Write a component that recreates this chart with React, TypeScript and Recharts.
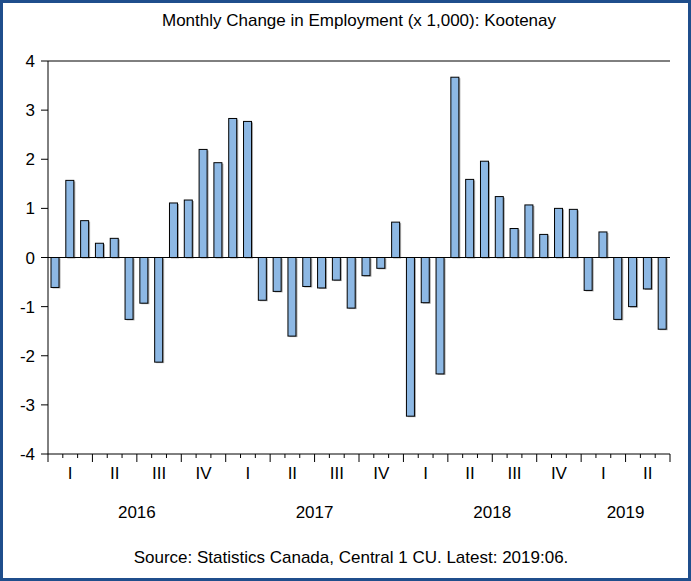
import React from "react";
import { BarChart, Bar, XAxis, YAxis, ReferenceLine } from "recharts";

// monthly periods, Jan 2016 - Jun 2019
const periods = [
  "2016:01", "2016:02", "2016:03", "2016:04", "2016:05", "2016:06",
  "2016:07", "2016:08", "2016:09", "2016:10", "2016:11", "2016:12",
  "2017:01", "2017:02", "2017:03", "2017:04", "2017:05", "2017:06",
  "2017:07", "2017:08", "2017:09", "2017:10", "2017:11", "2017:12",
  "2018:01", "2018:02", "2018:03", "2018:04", "2018:05", "2018:06",
  "2018:07", "2018:08", "2018:09", "2018:10", "2018:11", "2018:12",
  "2019:01", "2019:02", "2019:03", "2019:04", "2019:05", "2019:06",
];

// change in employment, thousands
const change = [
  -0.61, 1.57, 0.75, 0.29, 0.39, -1.26, -0.93, -2.13, 1.11, 1.17, 2.2, 1.93,
  2.83, 2.77, -0.87, -0.69, -1.6, -0.59, -0.62, -0.46, -1.03, -0.37, -0.22, 0.72,
  -3.23, -0.92, -2.37, 3.67, 1.59, 1.96, 1.24, 0.59, 1.07, 0.47, 1.0, 0.98,
  -0.67, 0.52, -1.26, -1.0, -0.64, -1.46,
];

const quarterLabels = ["I", "II", "III", "IV"];
const yTicks = [-4, -3, -2, -1, 0, 1, 2, 3, 4];

const data = periods.map((p, i) => ({ period: p, change: change[i] }));

const W = 685;
const H = 575;
const M = { top: 58, right: 18, bottom: 14, left: 5 };
const Y_W = 40;
const PLOT_W = W - M.left - M.right - Y_W;
const band = PLOT_W / periods.length;
const FONT = "'Liberation Sans', Arial, sans-serif";
const FS = 17;

const monthsInYear = (yr: string) =>
  periods.filter((p) => p.startsWith(yr)).length;

const XTick = (props: any) => {
  const { x, y, payload, index } = props;
  const [yr, moStr] = String(payload.value).split(":");
  const mo = Number(moStr);
  const left = x - band / 2;
  const major = (mo - 1) % 3 === 0;
  const last = index === periods.length - 1;
  return (
    <g>
      <line x1={left} x2={left} y1={y} y2={y + (major ? 8 : 4)} stroke="#000" />
      {last && (
        <line x1={x + band / 2} x2={x + band / 2} y1={y} y2={y + 8} stroke="#000" />
      )}
      {(mo - 1) % 3 === 1 && (
        <text x={x} y={y + 25} textAnchor="middle" fontSize={FS} fill="#000" fontFamily={FONT}>
          {quarterLabels[Math.floor((mo - 1) / 3)]}
        </text>
      )}
      {mo === 1 && (
        <text
          x={left + (monthsInYear(yr) * band) / 2}
          y={y + 64}
          textAnchor="middle"
          fontSize={FS}
          fill="#000"
          fontFamily={FONT}
        >
          {yr}
        </text>
      )}
    </g>
  );
};

const ShadowBar = (props: any) => {
  const { x, y, width, height } = props;
  const top = height < 0 ? y + height : y;
  const h = Math.abs(height);
  return (
    <g>
      <rect x={x + 1.5} y={top + 1} width={width} height={h} fill="#a8a8a8" />
      <rect x={x} y={top} width={width} height={h} fill="#8DB8E4" stroke="#000" strokeWidth={1} />
    </g>
  );
};

export default function App() {
  return (
    <div
      style={{
        position: "absolute",
        left: 0,
        top: 0,
        width: 691,
        height: 581,
        boxSizing: "border-box",
        border: "3px solid #1F4E8C",
        background: "#fff",
        fontFamily: FONT,
      }}
    >
      <div
        style={{
          position: "absolute",
          left: M.left + Y_W,
          width: PLOT_W,
          top: 9,
          textAlign: "center",
          fontSize: FS,
          lineHeight: `${FS}px`,
          color: "#000",
        }}
      >
        Monthly Change in Employment (x 1,000): Kootenay
      </div>
      <BarChart width={W} height={H} data={data} margin={M} barSize={8}>
        <XAxis
          dataKey="period"
          height={110}
          interval={0}
          tickLine={false}
          tickSize={0}
          tickMargin={0}
          axisLine={{ stroke: "#000" }}
          tick={<XTick />}
        />
        <YAxis
          yAxisId="l"
          width={Y_W}
          domain={[-4, 4]}
          ticks={yTicks}
          allowDataOverflow
          tickSize={7}
          tickMargin={6}
          axisLine={{ stroke: "#000" }}
          tickLine={{ stroke: "#000" }}
          tick={{ fontSize: FS, fill: "#000", fontFamily: FONT }}
        />
        <YAxis
          yAxisId="r"
          orientation="right"
          width={0}
          domain={[-4, 4]}
          tick={false}
          tickLine={false}
          axisLine={{ stroke: "#000" }}
        />
        <ReferenceLine yAxisId="l" y={4} stroke="#000" />
        <Bar
          yAxisId="l"
          dataKey="change"
          shape={<ShadowBar />}
          isAnimationActive={false}
        />
        <ReferenceLine yAxisId="l" y={0} stroke="#000" />
      </BarChart>
      <div
        style={{
          position: "absolute",
          left: M.left + Y_W - 8,
          width: PLOT_W,
          top: 546,
          textAlign: "center",
          fontSize: FS,
          lineHeight: `${FS}px`,
          color: "#000",
        }}
      >
        Source: Statistics Canada, Central 1 CU. Latest: 2019:06.
      </div>
    </div>
  );
}
